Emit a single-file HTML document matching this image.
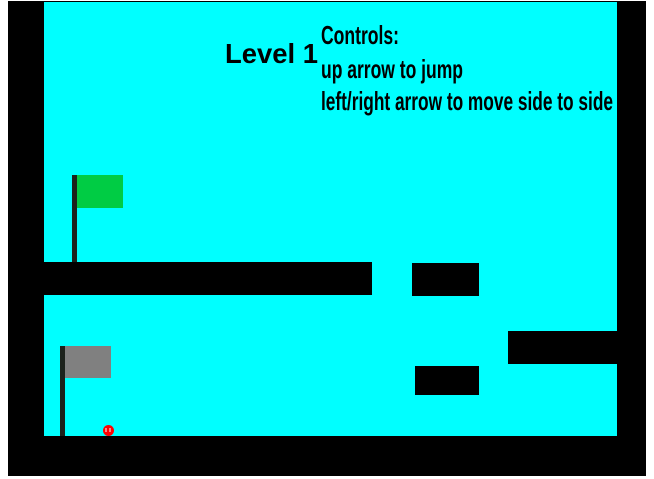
<!DOCTYPE html>
<html><head><meta charset="utf-8"><style>
html,body{margin:0;padding:0;background:#fff;width:654px;height:479px;overflow:hidden}
svg{display:block}
text{font-family:"Liberation Sans",sans-serif;fill:#000}
</style></head><body>
<svg width="654" height="479" viewBox="0 0 654 479">
<rect x="8" y="1" width="638" height="475" fill="#000"/>
<rect x="44" y="2" width="573" height="434" fill="#00ffff"/>
<rect x="44" y="262" width="328" height="33" fill="#000"/>
<rect x="412" y="263" width="67" height="33" fill="#000"/>
<rect x="508" y="331" width="109" height="33" fill="#000"/>
<rect x="415" y="366" width="64" height="29" fill="#000"/>
<g>
<rect x="72" y="175" width="5" height="87" fill="#1c221c"/>
<rect x="77" y="175" width="46" height="33" fill="#00cc44"/>
</g>
<g>
<rect x="60" y="346" width="5" height="90" fill="#1c221c"/>
<rect x="65" y="346" width="46" height="32" fill="#808080"/>
</g>
<g>
<circle cx="108.5" cy="430.5" r="5.5" fill="#ff0000"/>
<rect x="105.5" y="428" width="1" height="4" fill="#fff"/>
<rect x="109.5" y="428" width="1" height="4" fill="#fff"/>
</g>
<text x="225" y="63" font-size="28" font-weight="bold" textLength="93" lengthAdjust="spacingAndGlyphs">Level 1</text>
<text x="321" y="44" font-size="26" font-weight="bold" textLength="78" lengthAdjust="spacingAndGlyphs">Controls:</text>
<text x="321" y="78" font-size="26" font-weight="bold" textLength="142" lengthAdjust="spacingAndGlyphs">up arrow to jump</text>
<text x="321" y="110" font-size="26" font-weight="bold" textLength="292" lengthAdjust="spacingAndGlyphs">left/right arrow to move side to side</text>
</svg>
</body></html>
